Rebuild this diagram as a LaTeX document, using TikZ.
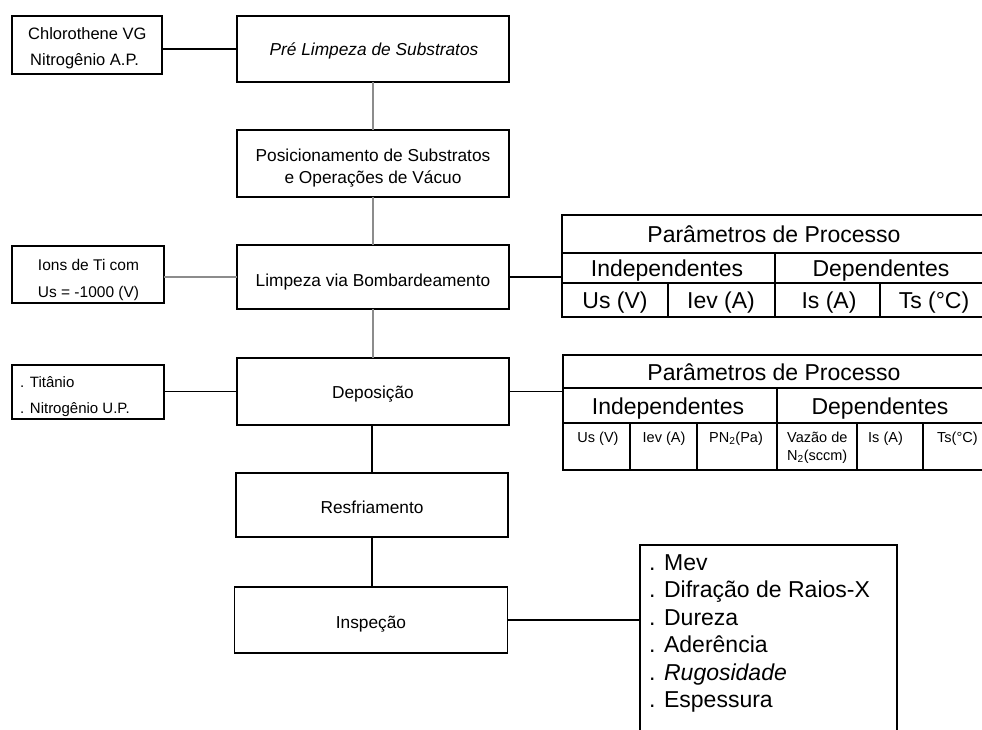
\documentclass[tikz,border=0pt]{standalone}
\usepackage{fontspec}
\setmainfont{Liberation Sans}
\newcommand\setfs[2]{\fontsize{#1}{#2}\selectfont}
\begin{document}
\begin{tikzpicture}[x=1pt,y=-1pt,
  box/.style={draw, line width=1.6pt, inner sep=0pt, outer sep=0pt, rectangle},
  conn/.style={line width=1.5pt},
  faint/.style={line width=1.3pt, black!45},
  rule/.style={line width=1.6pt},
  txt/.style={inner sep=0pt, anchor=base},
  txtw/.style={inner sep=0pt, anchor=base west},
  big/.style={font=\setfs{23}{26}},
  mid/.style={font=\setfs{17.3}{20}},
  sml/.style={font=\setfs{15.5}{18}},
  tiny/.style={font=\setfs{14.5}{17}}
]
\useasboundingbox (0,0) rectangle (982,729);

% ---- main column boxes
\node[box, minimum width=272, minimum height=66] (pre)  at (373,49) {};
\node[box, minimum width=272, minimum height=67] (pos)  at (373,163.5) {};
\node[box, minimum width=272, minimum height=64] (limp) at (373,277) {};
\node[box, minimum width=272, minimum height=67] (dep)  at (373,391.5) {};
\node[box, minimum width=272, minimum height=64] (resf) at (372,505) {};
\node[box, minimum width=273, minimum height=66] (insp) at (371,620) {};

\node[txt, font=\setfs{17.3}{20}\itshape] (preT) at (374,55) {Pré Limpeza de Substratos};
\node[txt, mid] (posT1) at (373,161) {Posicionamento de Substratos};
\node[txt, mid] (posT2) at (373,183) {e Operações de Vácuo};
\node[txt, mid] (limpT) at (373,286) {Limpeza via Bombardeamento};
\node[txt, mid] (depT)  at (373,398) {Deposição};
\node[txt, mid] (resfT) at (372,513) {Resfriamento};
\node[txt, mid] (inspT) at (371,628) {Inspeção};

% ---- left boxes
\node[box, minimum width=150, minimum height=58] (chl)  at (87,45) {};
\node[box, minimum width=152, minimum height=57] (ions) at (88,274.5) {};
\node[box, minimum width=152, minimum height=54] (tit)  at (88,392) {};

\node[txtw, font=\setfs{16.5}{19}] (chl1) at (28,39) {Chlorothene VG};
\node[txtw, font=\setfs{16.5}{19}] (chl2) at (30,65) {Nitrogênio A.P.};
\node[txt, sml] (ions1) at (88.5,270) {Ions de Ti com};
\node[txt, sml] (ions2) at (88.5,297) {Us = -1000 (V)};
\node[txtw, font=\setfs{15}{18}] (tit1) at (20,387) {. Titânio};
\node[txtw, font=\setfs{15}{18}] (tit2) at (20,413) {. Nitrogênio U.P.};

% ---- table 1
\node[box, minimum width=428, minimum height=102] (t1) at (776,266) {};
\draw[rule] (562,253) -- (990,253);
\draw[rule] (562,283) -- (990,283);
\draw[rule] (775,253) -- (775,317);
\draw[rule] (668,283) -- (668,317);
\draw[rule] (880,283) -- (880,317);
\node[txt, big] (t1h)  at (774,242) {Parâmetros de Processo};
\node[txt, big] (t1i)  at (667,276) {Independentes};
\node[txt, big] (t1dp) at (881,276) {Dependentes};
\node[txt, big] (t1c1) at (615,308) {Us (V)};
\node[txt, big] (t1c2) at (721,308) {Iev (A)};
\node[txt, big] (t1c3) at (829,308) {Is (A)};
\node[txt, big] (t1c4) at (934,308) {Ts (°C)};

% ---- table 2
\node[box, minimum width=427, minimum height=115] (t2) at (776.5,412.5) {};
\draw[rule] (563,388) -- (990,388);
\draw[rule] (563,423) -- (990,423);
\draw[rule] (777,388) -- (777,470);
\draw[rule] (630,423) -- (630,470);
\draw[rule] (697,423) -- (697,470);
\draw[rule] (857,423) -- (857,470);
\draw[rule] (923,423) -- (923,470);
\node[txt, big] (t2h)  at (774,380) {Parâmetros de Processo};
\node[txt, big] (t2i)  at (668,414) {Independentes};
\node[txt, big] (t2dp) at (880,414) {Dependentes};
\node[txt, tiny] (t2c1) at (598,442) {Us (V)};
\node[txt, tiny] (t2c2) at (664,442) {Iev (A)};
\node[txt, tiny] (t2c3) at (736,442) {PN\textsubscript{2}(Pa)};
\node[txtw, tiny] (t2c4a) at (787,442) {Vazão de};
\node[txtw, tiny] (t2c4b) at (787,460) {N\textsubscript{2}(sccm)};
\node[txtw, tiny] (t2c5) at (868,442) {Is (A)};
\node[txtw, tiny] (t2c6) at (937,442) {Ts(°C)};

% ---- inspection list
\node[box, minimum width=257, minimum height=195] (lst) at (768.5,642.5) {};
\foreach \t/\yy/\nm in {{. Mev}/570/l1, {. Difração de Raios-X}/597.5/l2, {. Dureza}/625/l3,
   {. Aderência}/652.5/l4, {. \textit{Rugosidade}}/680/l5, {. Espessura}/707.5/l6}
  \node[txtw, font=\setfs{23}{26}] (\nm) at (649,\yy) {\t};

% ---- connectors
\draw[conn] (pre.west) -- (pre.west -| chl.east);
\draw[faint] (limp.west) -- (limp.west -| ions.east);
\draw[conn] (dep.west) -- (dep.west -| tit.east);
\draw[conn] (limp.east) -- (limp.east -| t1.west);
\draw[conn] (dep.east) -- (dep.east -| t2.west);
\draw[conn] (insp.east) -- (insp.east -| lst.west);
\draw[faint] (pre.south) -- (pos.north);
\draw[faint] (pos.south) -- (limp.north);
\draw[faint] (limp.south) -- (dep.north);
\draw[conn] (dep.south -| resf.north) -- (resf.north);
\draw[conn] (resf.south) -- (insp.north -| resf.south);
\end{tikzpicture}
\end{document}
